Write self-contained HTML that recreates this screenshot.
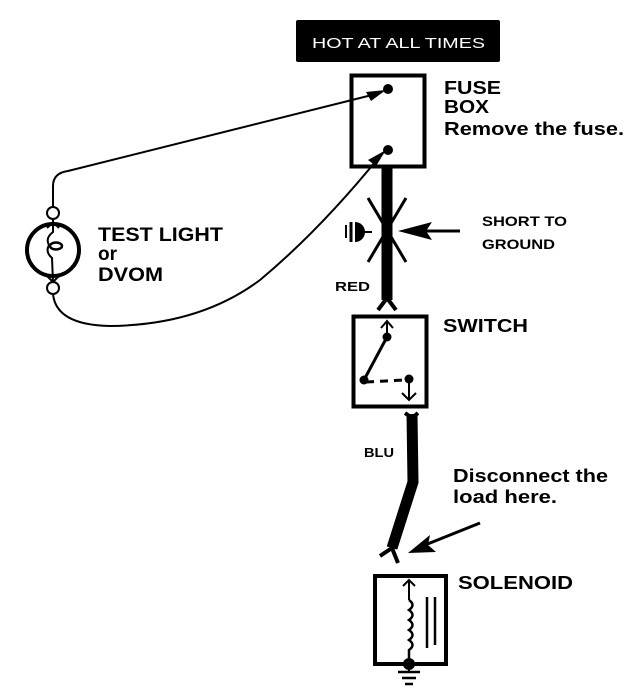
<!DOCTYPE html>
<html><head><style>
html,body{margin:0;padding:0;background:#fff;}
svg{display:block;}
</style></head><body>
<svg width="640" height="692" viewBox="0 0 640 692" xmlns="http://www.w3.org/2000/svg" font-family="Liberation Sans, Arial, sans-serif" font-weight="bold">
<!-- HOT AT ALL TIMES -->
<rect x="296" y="20" width="204" height="42" rx="2" fill="#000"/>
<text x="312" y="48" font-size="15" font-weight="normal" fill="#fff" textLength="173" lengthAdjust="spacingAndGlyphs">HOT AT ALL TIMES</text>

<!-- Fuse box -->
<rect x="351.5" y="75.5" width="73" height="91" fill="none" stroke="#000" stroke-width="4"/>
<circle cx="388" cy="89" r="5" fill="#000"/>
<circle cx="388" cy="150" r="5" fill="#000"/>
<text x="444" y="94" font-size="18" textLength="57" lengthAdjust="spacingAndGlyphs">FUSE</text>
<text x="444" y="113" font-size="18" textLength="45" lengthAdjust="spacingAndGlyphs">BOX</text>
<text x="444" y="135" font-size="18" textLength="180" lengthAdjust="spacingAndGlyphs">Remove the fuse.</text>

<!-- Red wire -->
<line x1="387" y1="168" x2="387" y2="300" stroke="#000" stroke-width="11"/>
<path d="M378 310 L387 298 L396 310" fill="none" stroke="#000" stroke-width="4"/>
<line x1="368" y1="198" x2="406" y2="262" stroke="#000" stroke-width="3"/>
<line x1="406" y1="198" x2="368" y2="262" stroke="#000" stroke-width="3"/>
<line x1="346" y1="225" x2="346" y2="238" stroke="#000" stroke-width="2"/>
<line x1="351" y1="222" x2="351" y2="242" stroke="#000" stroke-width="3"/>
<path d="M355 222 A10 10 0 0 1 355 242 Z" fill="#000"/>
<line x1="355" y1="232" x2="372" y2="232" stroke="#000" stroke-width="2"/>
<line x1="460" y1="231" x2="420" y2="231" stroke="#000" stroke-width="3"/>
<polygon points="398,231 432,222 426,231 432,240" fill="#000"/>
<text x="482" y="226" font-size="14" textLength="85" lengthAdjust="spacingAndGlyphs">SHORT TO</text>
<text x="482" y="249" font-size="14" textLength="73" lengthAdjust="spacingAndGlyphs">GROUND</text>
<text x="335" y="291" font-size="13" textLength="35" lengthAdjust="spacingAndGlyphs">RED</text>

<!-- Test light wires -->
<path d="M53 207 L53 186 Q53 173 68 171 L376 94" fill="none" stroke="#000" stroke-width="2"/>
<polygon points="386,90 366,92 371,101" fill="#000"/>
<path d="M53 294 Q56 325 110 326 Q200 325 260 280 Q320 230 380 156" fill="none" stroke="#000" stroke-width="2"/>
<polygon points="386,150 368,160 376,166" fill="#000"/>
<circle cx="53" cy="250" r="26" fill="none" stroke="#000" stroke-width="4"/>
<circle cx="53" cy="213" r="6" fill="#fff" stroke="#000" stroke-width="2"/>
<circle cx="53" cy="288" r="6" fill="#fff" stroke="#000" stroke-width="2"/>
<path d="M53 219 L53 232 Q45 238 49 245 Q45 252 52 258 L53 282" fill="none" stroke="#000" stroke-width="2"/>
<path d="M47 228 L53 222 L59 228 M47 276 L53 282 L59 276" fill="none" stroke="#000" stroke-width="2"/>
<ellipse cx="56" cy="246" rx="6" ry="3.5" fill="none" stroke="#000" stroke-width="2.5"/>
<text x="98" y="241" font-size="19" textLength="125" lengthAdjust="spacingAndGlyphs">TEST LIGHT</text>
<text x="98" y="260" font-size="19" textLength="19" lengthAdjust="spacingAndGlyphs">or</text>
<text x="98" y="281" font-size="19" textLength="65" lengthAdjust="spacingAndGlyphs">DVOM</text>

<!-- Switch -->
<rect x="353.5" y="316.5" width="73" height="90" fill="none" stroke="#000" stroke-width="4"/>
<text x="443" y="332" font-size="18" textLength="85" lengthAdjust="spacingAndGlyphs">SWITCH</text>
<line x1="387" y1="322" x2="387" y2="336" stroke="#000" stroke-width="2"/>
<path d="M381 328 L387 321 L393 328" fill="none" stroke="#000" stroke-width="2"/>
<circle cx="387" cy="337" r="4.5" fill="#000"/>
<line x1="387" y1="337" x2="364" y2="380" stroke="#000" stroke-width="3"/>
<circle cx="364" cy="380" r="4.5" fill="#000"/>
<line x1="366" y1="382" x2="404" y2="380" stroke="#000" stroke-width="3" stroke-dasharray="8,6"/>
<circle cx="409" cy="379" r="4.5" fill="#000"/>
<line x1="409" y1="380" x2="409" y2="400" stroke="#000" stroke-width="2"/>
<path d="M402 393 L409 400 L416 393" fill="none" stroke="#000" stroke-width="2"/>

<!-- BLU wire -->
<path d="M405 413 L412 418 L418 413" fill="none" stroke="#000" stroke-width="4"/>
<path d="M412 414 L413 482 L392 548" fill="none" stroke="#000" stroke-width="11"/>
<path d="M380 556 L392 548 L398 563" fill="none" stroke="#000" stroke-width="4"/>
<text x="364" y="457" font-size="13" textLength="30" lengthAdjust="spacingAndGlyphs">BLU</text>
<text x="453" y="482" font-size="18" textLength="155" lengthAdjust="spacingAndGlyphs">Disconnect the</text>
<text x="453" y="503" font-size="18" textLength="104" lengthAdjust="spacingAndGlyphs">load here.</text>
<line x1="480" y1="523" x2="425" y2="545" stroke="#000" stroke-width="3"/>
<polygon points="408,553 430,535 428,545 436,552" fill="#000"/>

<!-- Solenoid -->
<rect x="375" y="576" width="71" height="88" fill="none" stroke="#000" stroke-width="4"/>
<text x="458" y="589" font-size="18" textLength="115" lengthAdjust="spacingAndGlyphs">SOLENOID</text>
<line x1="409" y1="580" x2="409" y2="600" stroke="#000" stroke-width="2"/>
<path d="M403 586 L409 580 L415 586" fill="none" stroke="#000" stroke-width="2"/>
<path d="M409 600 q7 5 0 10 q7 5 0 10 q7 5 0 10 q7 5 0 10 q7 5 0 10 L409 662" fill="none" stroke="#000" stroke-width="2.5"/>
<line x1="427" y1="597" x2="427" y2="648" stroke="#000" stroke-width="2.5"/>
<line x1="435" y1="597" x2="435" y2="645" stroke="#000" stroke-width="2.5"/>
<circle cx="409" cy="664" r="6" fill="#000"/>
<line x1="409" y1="664" x2="409" y2="672" stroke="#000" stroke-width="2"/>
<line x1="398" y1="672" x2="420" y2="672" stroke="#000" stroke-width="2.5"/>
<line x1="402" y1="678" x2="416" y2="678" stroke="#000" stroke-width="2.5"/>
<line x1="405" y1="684" x2="413" y2="684" stroke="#000" stroke-width="2.5"/>
</svg>
</body></html>
